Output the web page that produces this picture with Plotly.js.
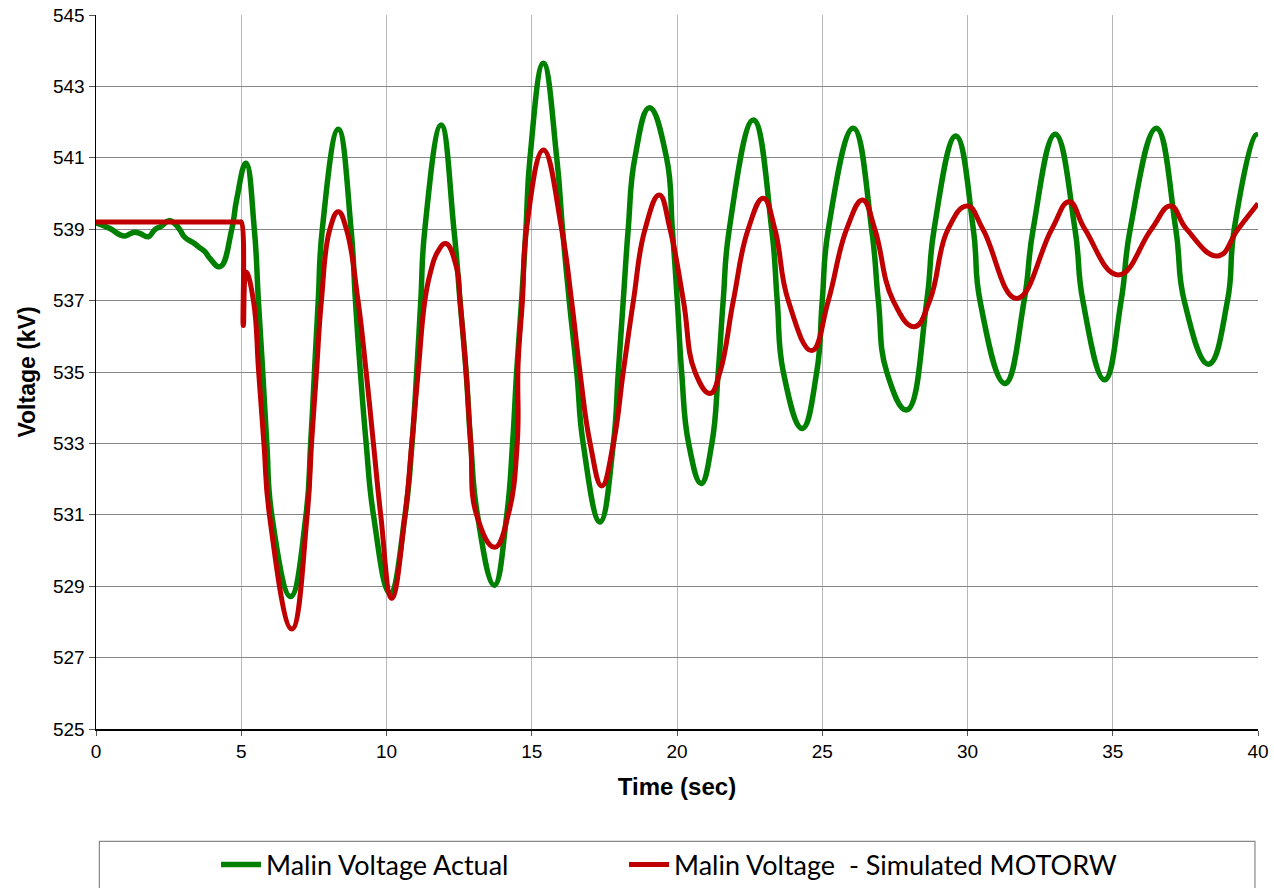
<!DOCTYPE html>
<html>
<head>
<meta charset="utf-8">
<script src="https://cdn.plot.ly/plotly-3.0.1.min.js"></script>
<style>html,body{margin:0;padding:0;background:#fff;}#chart{width:1274px;height:888px;}</style>
</head>
<body>
<div id="chart"></div>
<script>
// Malin Voltage Actual (time in sec, voltage in kV)
const actualTime = [0,0.48,0.83,1.0,1.29,1.51,1.8,2.03,2.26,2.51,2.72,2.89,3.06,3.35,3.52,3.75,3.92,4.27,4.67,4.84,5.16,5.45,5.59,5.74,5.88,6.05,6.70,7.23,7.39,7.52,7.65,7.79,8.34,8.78,8.93,9.1,9.3,9.55,10.12,10.64,10.88,11.04,11.18,11.32,11.88,12.32,12.53,12.74,12.9,13.13,13.71,14.14,14.34,14.48,14.65,14.8,14.94,15.4,15.86,16.06,16.29,16.55,16.77,17.35,17.81,17.98,18.15,18.32,18.55,19.05,19.64,19.84,20.01,20.16,20.4,20.83,21.2,21.42,21.59,21.8,22.63,23.26,23.45,23.66,24.31,24.81,25.0,25.21,26.07,26.70,26.93,27.22,27.91,28.6,28.85,29.6,30.2,30.43,31.29,31.95,32.26,33.02,33.7,33.97,34.72,35.29,35.6,36.5,37.17,37.46,38.3,38.95,39.18,39.93,40];
const actualVolt = [539.18,539.02,538.84,538.81,538.91,538.88,538.79,538.99,539.09,539.24,539.15,538.98,538.77,538.62,538.51,538.37,538.18,537.95,538.98,539.82,540.85,539.0,537.0,535.0,533.0,531.0,528.71,531.0,533.0,535.0,537.0,539.0,541.8,539.0,537.0,535.0,533.0,531.0,528.8,531.0,533.0,535.0,537.0,539.0,541.92,539.0,537.0,535.0,533.0,531.0,529.03,531.0,533.0,535.0,537.0,539.0,541.0,543.65,541.0,539.0,537.0,535.0,533.0,530.8,533.0,535.0,537.0,539.0,541.0,542.4,541.0,539.0,537.0,535.0,533.0,531.88,533.0,535.0,537.0,539.0,542.06,539.0,537.0,535.0,533.42,535.0,537.0,539.0,541.83,539.0,537.0,535.0,533.94,537.0,539.0,541.61,539.0,537.0,534.68,537.0,539.0,541.66,539.0,537.0,534.78,537.0,539.0,541.83,539.0,537.0,535.22,537.0,539.0,541.64,541.6];

// Malin Voltage - Simulated MOTORW
const simTime = [0,2.5,4.95,5.0,5.07,5.17,5.42,5.6,5.78,5.97,6.74,7.27,7.42,7.59,7.76,8.05,8.34,8.62,9.02,9.3,9.55,9.8,10.18,10.64,10.87,11.09,11.32,11.5,11.75,12.04,12.42,12.53,12.74,12.9,13.1,13.73,14.19,14.5,14.53,14.68,14.82,15.4,16.03,16.37,16.66,17.01,17.41,17.81,18.15,18.5,18.9,19.39,19.76,20.22,20.62,21.14,21.48,21.94,22.45,22.97,23.37,23.83,24.64,25.21,25.84,26.39,26.81,27.44,28.17,28.7,29.33,29.99,30.53,31.69,32.9,33.5,34.04,35.19,36.33,36.99,37.54,38.62,39.31,40];
const simVolt = [539.2,539.2,539.2,539.2,536.3,537.8,537.0,535.0,533.0,531.0,527.8,531.0,533.0,535.0,537.0,539.0,539.49,539.0,537.0,535.0,533.0,531.0,528.66,531.0,533.0,535.0,537.0,537.75,538.35,538.6,537.9,537.0,535.0,533.0,531.0,530.09,531.0,533.0,535.25,537.0,539.0,541.22,539.0,537.0,535.0,533.0,531.81,533.0,535.0,537.0,539.0,539.96,539.0,537.0,535.0,534.4,535.0,537.0,539.0,539.87,539.0,537.0,535.6,537.0,539.0,539.82,539.0,537.0,536.27,537.0,539.0,539.65,539.0,537.06,539.0,539.77,539.0,537.72,539.0,539.65,539.0,538.25,539.0,539.72];

const seriesNames = ["Malin Voltage Actual", "Malin Voltage  - Simulated MOTORW"];
const xTicks = [0,5,10,15,20,25,30,35,40];
const yTicks = [525,527,529,531,533,535,537,539,541,543,545];

const traces = [
  {x: actualTime, y: actualVolt, name: seriesNames[0], mode: 'lines', legend: 'legend',
   line: {color: '#008000', width: 5.5, shape: 'spline', smoothing: 1.3}},
  {x: simTime, y: simVolt, name: seriesNames[1], mode: 'lines', legend: 'legend2',
   line: {color: '#C00000', width: 5, shape: 'spline', smoothing: 1.3}}
];

const axisFont = {family: 'Liberation Sans, Arial, sans-serif', size: 19, color: '#000'};
const legendBase = {
  orientation: 'h', xref: 'paper', xanchor: 'left',
  yref: 'container', y: 0.026, yanchor: 'middle',
  font: {family: 'Lato, sans-serif', size: 27, color: '#000'},
  bgcolor: 'rgba(0,0,0,0)', borderwidth: 0, itemwidth: 40
};
const layout = {
  width: 1274, height: 888,
  margin: {l: 96, r: 16, t: 15, b: 159, autoexpand: false},
  paper_bgcolor: '#fff', plot_bgcolor: '#fff',
  showlegend: true,
  xaxis: {
    range: [0, 40], tickvals: xTicks, ticktext: xTicks.map(String),
    showgrid: true, gridcolor: '#b8b8b8', gridwidth: 1,
    showline: true, linecolor: '#000', linewidth: 1.5,
    ticks: 'outside', ticklen: 5, tickcolor: '#555', tickfont: axisFont,
    zeroline: false,
    title: {text: '<b>Time (sec)</b>', font: {family: 'Liberation Sans, Arial, sans-serif', size: 24, color: '#000'}, standoff: 17}
  },
  yaxis: {
    range: [525, 545], tickvals: yTicks, ticktext: yTicks.map(String),
    showgrid: true, gridcolor: '#868686', gridwidth: 1,
    showline: true, linecolor: '#000', linewidth: 1.5,
    ticks: 'outside', ticklen: 6, tickcolor: '#555', tickfont: axisFont,
    zeroline: false,
    title: {text: '<b>Voltage (kV)</b>', font: {family: 'Liberation Sans, Arial, sans-serif', size: 23, color: '#000'}, standoff: 11}
  },
  legend: Object.assign({}, legendBase, {x: 0.1033}),
  legend2: Object.assign({}, legendBase, {x: 0.4544}),
  shapes: [
    {type: 'rect', xref: 'paper', yref: 'paper', x0: 0.0029, x1: 0.9974, y0: -0.1575, y1: -0.4,
     line: {color: '#888', width: 1.2}, fillcolor: 'rgba(0,0,0,0)', layer: 'below'}
  ]
};

Plotly.newPlot('chart', traces, layout, {staticPlot: true, displayModeBar: false});
</script>
</body>
</html>
